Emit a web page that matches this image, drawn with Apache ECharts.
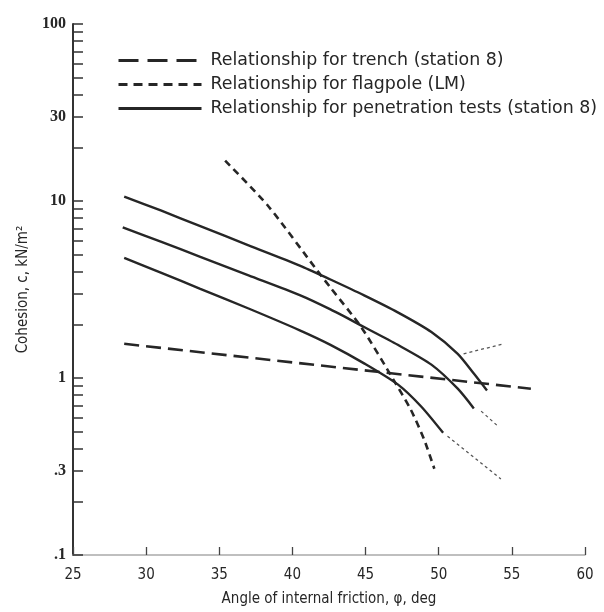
<!DOCTYPE html>
<html><head><meta charset="utf-8">
<script src="https://cdn.jsdelivr.net/npm/echarts@6/dist/echarts.min.js"></script>
<style>html,body{margin:0;padding:0;background:#fff}#c{width:604px;height:612px}</style>
</head><body><div id="c"></div>
<script>
// ---- data ----
const xTickLabels = [25, 30, 35, 40, 45, 50, 55, 60];
const yLabelValues = [0.1, 0.3, 1, 10, 30, 100];
const yTickValues = [0.1,0.2,0.3,0.4,0.5,0.6,0.7,0.8,0.9,1,2,3,4,5,6,7,8,9,10,20,30,40,50,60,70,80,90,100];

const nameTrench = 'Relationship for trench (station 8)';
const nameFlag = 'Relationship for flagpole (LM)';
const namePen = 'Relationship for penetration tests (station 8)';

const trenchPhi = [28.5, 56.3];
const trenchC   = [1.56, 0.87];

const flagPhi = [35.4, 38.3, 41.7, 42.6, 44.7, 46.9, 48.1, 49.0, 49.7];
const flagC   = [16.9, 9.46, 4.04, 3.24, 1.94, 0.98, 0.66, 0.45, 0.307];

const pen1Phi = [28.5, 31, 33.7, 37, 40.5, 42.6, 44.9, 47.2, 49.5, 51.3, 52.4, 53.3];
const pen1C   = [10.6, 8.84, 7.21, 5.62, 4.32, 3.6, 2.93, 2.35, 1.82, 1.37, 1.06, 0.85];
const pen3Phi = [28.4, 31, 33.7, 37, 40.5, 42.6, 44.9, 47.2, 49.5, 51.3, 52.4];
const pen3C   = [7.1, 5.89, 4.84, 3.8, 2.94, 2.44, 1.94, 1.54, 1.19, 0.87, 0.673];
const pen6Phi = [28.5, 31, 33.7, 37, 40.5, 42.6, 44.9, 47.2, 48.8, 50.3];
const pen6C   = [4.77, 3.94, 3.19, 2.47, 1.86, 1.54, 1.21, 0.92, 0.69, 0.49];

// annotation leaders (phi, c)
const lead1Phi = [51.7, 54.45]; const lead1C = [1.37, 1.56];
const lead3Phi = [52.9, 54.04]; const lead3C = [0.65, 0.535];
const lead6Phi = [50.6, 54.25]; const lead6C = [0.469, 0.269];
// annotation label anchors
const ratioVals = ['1', '3', '6'];
const fracPhi = [55.07, 55.0, 54.93]; const fracC = [1.576, 0.514, 0.253];
const eqPhi   = [57.33, 57.19, 57.33]; const eqC   = [1.535, 0.501, 0.249];

const zip = (a, b) => a.map((v, i) => [v, b[i]]);
const FONT = '"DejaVu Sans Condensed","Liberation Sans Narrow",sans-serif';
const LFONT = '"DejaVu Sans",sans-serif';
const INK = '#262626';

const chart = echarts.init(document.getElementById('c'), null, {renderer: 'canvas'});

const lineBase = {type: 'line', symbol: 'none', smooth: 0.25, silent: true, z: 3};
const leader = (d) => ({type: 'line', symbol: 'none', silent: true, data: d,
  lineStyle: {color: '#555', width: 1.3, type: [3, 3]}, z: 2});

const option = {
  animation: false,
  backgroundColor: '#fff',
  grid: {left: 73, right: 19, top: 24, bottom: 51, containLabel: false},
  legend: {
    orient: 'vertical', left: 117, top: 52, padding: 0,
    itemWidth: 83, itemHeight: 14, itemGap: 7,
    selectedMode: false,
    itemStyle: {color: 'rgba(0,0,0,0)', borderWidth: 0, opacity: 0},
    textStyle: {fontFamily: LFONT, fontSize: 17.4, lineHeight: 16, color: INK, padding: [0, 0, 0, 4]},
    data: [
      {name: nameTrench, lineStyle: {type: [20, 9], width: 3, color: INK}},
      {name: nameFlag, lineStyle: {type: [9, 6], width: 3, color: INK}},
      {name: namePen, lineStyle: {type: 'solid', width: 3, color: INK}}
    ]
  },
  xAxis: {
    type: 'value', min: 25, max: 60, interval: 5,
    name: 'Angle of internal friction, \u03c6, deg', nameLocation: 'middle', nameGap: 37,
    nameTextStyle: {fontFamily: FONT, fontSize: 15, color: INK},
    axisLine: {show: true, lineStyle: {color: '#aaa', width: 1.5}},
    axisTick: {show: true, inside: true, length: 8, lineStyle: {color: '#444', width: 1.3}},
    axisLabel: {fontFamily: FONT, fontSize: 15, color: INK, margin: 13,
      customValues: xTickLabels},
    splitLine: {show: false}
  },
  yAxis: {
    type: 'log', logBase: 10, min: 0.1, max: 100,
    name: 'Cohesion, c, kN/m\u00b2', nameLocation: 'middle', nameGap: 33, nameRotate: 90,
    nameTextStyle: {fontFamily: FONT, fontSize: 15, color: INK},
    axisLine: {show: true, lineStyle: {color: '#333', width: 2}},
    axisTick: {show: true, inside: true, length: 10, lineStyle: {color: '#333', width: 1.5},
      customValues: yTickValues},
    axisLabel: {fontFamily: '"Liberation Serif",serif', fontSize: 16, fontWeight: 'bold', color: INK, margin: 7,
      customValues: yLabelValues,
      formatter: v => (v < 1 ? String(v).replace(/^0/, '') : String(v))},
    splitLine: {show: false}, minorTick: {show: false}
  },
  series: [
    Object.assign({}, lineBase, {name: nameTrench, data: zip(trenchPhi, trenchC), smooth: false,
      lineStyle: {color: INK, width: 2.6, type: [15, 7]}}),
    Object.assign({}, lineBase, {name: nameFlag, data: zip(flagPhi, flagC),
      lineStyle: {color: INK, width: 2.6, type: [7, 5]}}),
    Object.assign({}, lineBase, {name: namePen, data: zip(pen1Phi, pen1C),
      lineStyle: {color: INK, width: 2.4}}),
    Object.assign({}, lineBase, {name: namePen, data: zip(pen3Phi, pen3C),
      lineStyle: {color: INK, width: 2.4}}),
    Object.assign({}, lineBase, {name: namePen, data: zip(pen6Phi, pen6C),
      lineStyle: {color: INK, width: 2.4}}),
    leader(zip(lead1Phi, lead1C)),
    leader(zip(lead3Phi, lead3C)),
    leader(zip(lead6Phi, lead6C)),
    {type: 'scatter', symbolSize: 1, silent: true, itemStyle: {opacity: 0},
      data: zip(fracPhi, fracC),
      label: {show: true, position: 'inside', color: INK, fontFamily: FONT,
        formatter: '{n|D}\n{hr|}\n{d|B}',
        rich: {n: {fontSize: 15, align: 'center', lineHeight: 15},
               hr: {backgroundColor: INK, height: 1.5, width: 14, align: 'center'},
               d: {fontSize: 15, align: 'center', lineHeight: 16}}}},
    {type: 'scatter', symbolSize: 1, silent: true, itemStyle: {opacity: 0},
      data: zip(eqPhi, eqC),
      label: {show: true, position: 'inside', color: INK, fontFamily: FONT, fontSize: 16,
        formatter: p => '= ' + ratioVals[p.dataIndex]}}
  ]
};
chart.setOption(option);
</script>
</body></html>
